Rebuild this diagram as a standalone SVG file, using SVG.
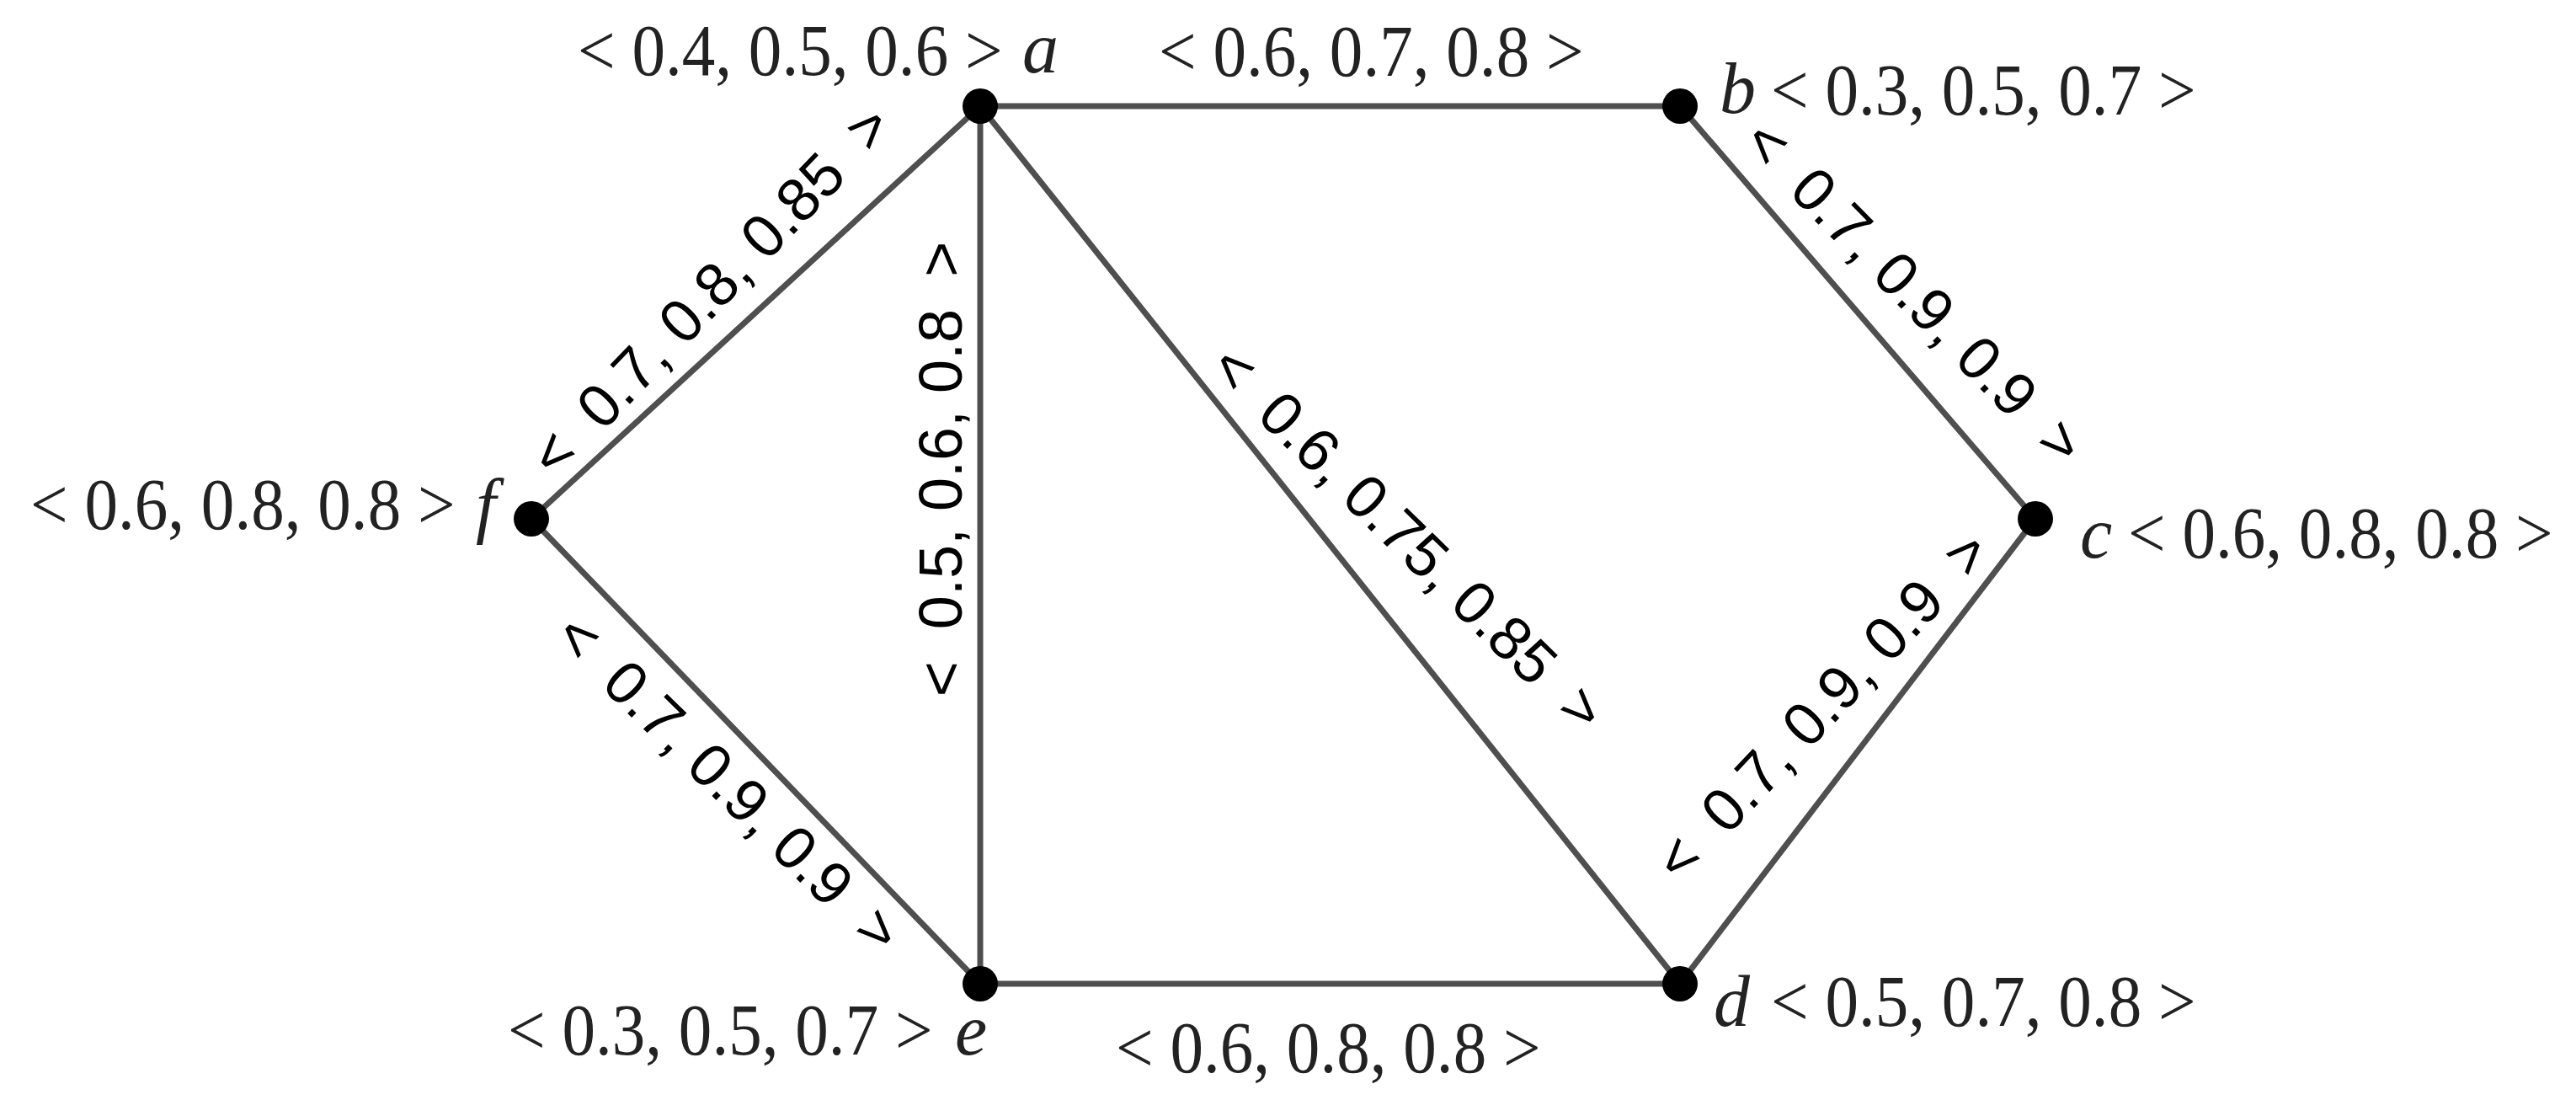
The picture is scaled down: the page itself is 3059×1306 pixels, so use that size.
<svg xmlns="http://www.w3.org/2000/svg" width="3059" height="1306" viewBox="0 0 3059 1306">
<style>
.edge{stroke:#4f4f4f;stroke-width:7;stroke-linecap:round;fill:none}
.dot{fill:#000}
.nl{font-family:"Liberation Serif",serif;font-size:86px;fill:#222}
.nv{font-family:"Liberation Serif",serif;font-size:86px;font-style:italic;fill:#222}
.el{font-family:"Liberation Sans",sans-serif;font-size:72px;fill:#000;text-anchor:middle}
</style>
<rect width="3059" height="1306" fill="#fff"/>
<g id="connectors">
<line class="edge" x1="1164" y1="126" x2="1995" y2="126"/>
<line class="edge" x1="1995" y1="126" x2="2417" y2="616"/>
<line class="edge" x1="2417" y1="616" x2="1995" y2="1168"/>
<line class="edge" x1="1995" y1="1168" x2="1164" y2="1168"/>
<line class="edge" x1="1164" y1="1168" x2="1164" y2="126"/>
<line class="edge" x1="1164" y1="126" x2="631" y2="616"/>
<line class="edge" x1="631" y1="616" x2="1164" y2="1168"/>
<line class="edge" x1="1164" y1="126" x2="1995" y2="1168"/>
<text class="nl" transform="translate(1376,90) scale(0.92,1)">&lt; 0.6, 0.7, 0.8 &gt;</text>
<text class="nl" transform="translate(1325,1273) scale(0.92,1)">&lt; 0.6, 0.8, 0.8 &gt;</text>
<text class="el" transform="translate(1116,557) rotate(-90)" x="0" y="26">&lt; <tspan dx="18">0.5, 0.6, 0.8</tspan> <tspan dx="18">&gt;</tspan></text>
<text class="el" transform="translate(843,344) rotate(-46)" x="0" y="26">&lt; <tspan dx="18">0.7, 0.8, 0.85</tspan> <tspan dx="18">&gt;</tspan></text>
<text class="el" transform="translate(866,929) rotate(44.4)" x="0" y="26">&lt; <tspan dx="18">0.7, 0.9, 0.9</tspan> <tspan dx="18">&gt;</tspan></text>
<text class="el" transform="translate(1673,638) rotate(44.4)" x="0" y="26">&lt; <tspan dx="18">0.6, 0.75, 0.85</tspan> <tspan dx="18">&gt;</tspan></text>
<text class="el" transform="translate(2274,346) rotate(45.5)" x="0" y="26">&lt; <tspan dx="18">0.7, 0.9, 0.9</tspan> <tspan dx="18">&gt;</tspan></text>
<text class="el" transform="translate(2163,837) rotate(-46.6)" x="0" y="26">&lt; <tspan dx="18">0.7, 0.9, 0.9</tspan> <tspan dx="18">&gt;</tspan></text>
</g>
<g id="node-a">
<circle class="dot" cx="1164" cy="126" r="21"/>
<text class="nl" transform="translate(686,89) scale(0.92,1)">&lt; 0.4, 0.5, 0.6 &gt;</text>
<text class="nv" x="1214" y="86">a</text>
</g>
<g id="node-b">
<circle class="dot" cx="1995" cy="126" r="21"/>
<text class="nv" x="2042" y="134">b</text>
<text class="nl" transform="translate(2103,136) scale(0.92,1)">&lt; 0.3, 0.5, 0.7 &gt;</text>
</g>
<g id="node-c">
<circle class="dot" cx="2417" cy="616" r="21"/>
<text class="nv" x="2470" y="662">c</text>
<text class="nl" transform="translate(2527,662) scale(0.92,1)">&lt; 0.6, 0.8, 0.8 &gt;</text>
</g>
<g id="node-d">
<circle class="dot" cx="1995" cy="1168" r="21"/>
<text class="nv" x="2035" y="1218">d</text>
<text class="nl" transform="translate(2103,1218) scale(0.92,1)">&lt; 0.5, 0.7, 0.8 &gt;</text>
</g>
<g id="node-e">
<circle class="dot" cx="1164" cy="1168" r="21"/>
<text class="nl" transform="translate(603,1252) scale(0.92,1)">&lt; 0.3, 0.5, 0.7 &gt;</text>
<text class="nv" x="1134" y="1252">e</text>
</g>
<g id="node-f">
<circle class="dot" cx="631" cy="616" r="21"/>
<text class="nl" transform="translate(36,628) scale(0.92,1)">&lt; 0.6, 0.8, 0.8 &gt;</text>
<text class="nv" x="565" y="628">f</text>
</g>
</svg>
